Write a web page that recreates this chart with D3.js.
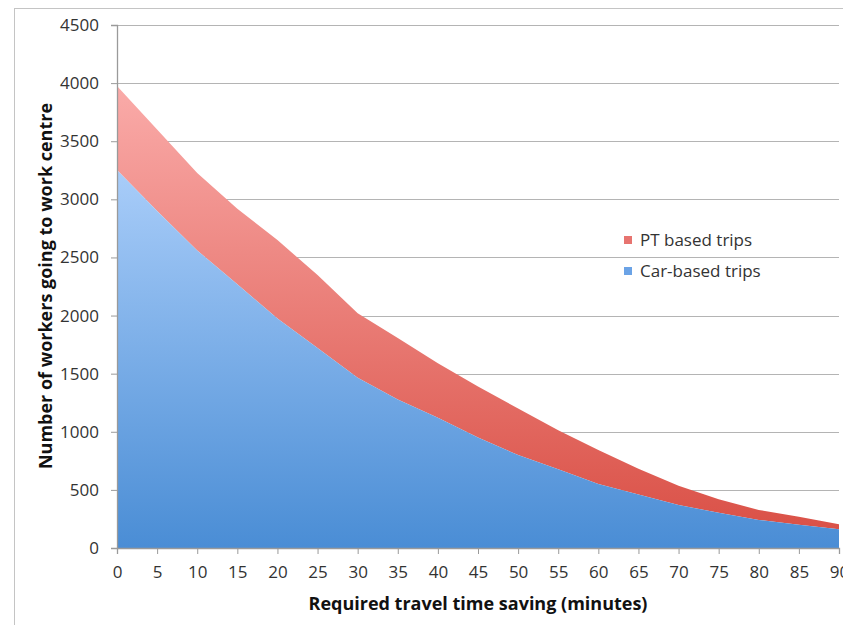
<!DOCTYPE html>
<html><head><meta charset="utf-8">
<script src="https://cdn.jsdelivr.net/npm/d3@7"></script>
<style>body{margin:0;background:#fff}svg{display:block}</style>
</head><body>
<script>
const minutes = [0,5,10,15,20,25,30,35,40,45,50,55,60,65,70,75,80,85,90];
const carTrips = [3253,2900,2560,2270,1975,1721,1465,1277,1120,950,800,678,551,460,370,303,241,201,161];
const ptTrips  = [722,700,667,650,675,627,555,530,469,440,400,335,293,221,165,116,86,68,44];
const yTicks = [0,500,1000,1500,2000,2500,3000,3500,4000,4500];
const seriesNames = ["Car-based trips","PT based trips"];
const xTitle = "Required travel time saving (minutes)";
const yTitle = "Number of workers going to work centre";

const W=843,H=625;
const m={left:117,right:4,top:25,bottom:77};
const svg=d3.select("body").append("svg").attr("width",W).attr("height",H);

// outer frame
svg.append("rect").attr("x",14.5).attr("y",8.5).attr("width",W).attr("height",H)
  .attr("fill","none").attr("stroke","#c4c4c4");

const x=d3.scaleLinear().domain([0,90]).range([m.left,W-m.right]);
const y=d3.scaleLinear().domain([0,4500]).range([H-m.bottom,m.top]);

const defs=svg.append("defs");
function grad(id,c1,c2){
  const g=defs.append("linearGradient").attr("id",id).attr("x1",0).attr("y1",0).attr("x2",0).attr("y2",1);
  g.append("stop").attr("offset","0%").attr("stop-color",c1);
  g.append("stop").attr("offset","100%").attr("stop-color",c2);
}
grad("gBlue","#a9cdf9","#4a8dd5");
grad("gRed","#faaba9","#da5147");

// gridlines
svg.append("g").selectAll("line").data(yTicks.filter(d=>d>0)).join("line")
  .attr("x1",m.left).attr("x2",W-m.right)
  .attr("y1",d=>Math.round(y(d))+0.5).attr("y2",d=>Math.round(y(d))+0.5)
  .attr("stroke","#b4b4b4").attr("stroke-width",1.2);

const data=minutes.map((t,i)=>({t,car:carTrips[i],pt:ptTrips[i]}));
const stack=d3.stack().keys(["car","pt"])(data);
const area=d3.area().x(d=>x(d.data.t)).y0(d=>y(d[0])).y1(d=>y(d[1]));
svg.append("path").datum(stack[1]).attr("d",area).attr("fill","url(#gRed)");
svg.append("path").datum(stack[0]).attr("d",area).attr("fill","url(#gBlue)");

// axes
const font="'Open Sans', Lato, sans-serif";
const yAxis=svg.append("g").attr("transform",`translate(${m.left},0)`)
  .call(d3.axisLeft(y).tickValues(yTicks).tickSize(6).tickPadding(12).tickFormat(d3.format("d")));
const xAxis=svg.append("g").attr("transform",`translate(0,${H-m.bottom})`)
  .call(d3.axisBottom(x).tickValues(minutes).tickSize(6).tickPadding(12).tickFormat(d3.format("d")));
[yAxis,xAxis].forEach(a=>{
  a.select(".domain").attr("stroke","#9a9a9a").attr("stroke-width",1.3);
  a.selectAll(".tick line").attr("stroke","#9a9a9a");
  a.selectAll("text").attr("fill","#333").style("font-family",font).style("font-size","17px");
});

// titles
svg.append("text").attr("x",478).attr("y",610).attr("text-anchor","middle")
  .style("font-family",font).style("font-weight","bold").style("font-size","18px").attr("fill","#111")
  .text(xTitle);
svg.append("text").attr("transform","translate(52,286) rotate(-90)").attr("text-anchor","middle")
  .style("font-family",font).style("font-weight","bold").style("font-size","18px").attr("fill","#111")
  .text(yTitle);

// legend
const legend=[{name:seriesNames[1],c:"#e77470",y:240},{name:seriesNames[0],c:"#6ba3e6",y:271}];
const lg=svg.append("g");
lg.selectAll("rect").data(legend).join("rect")
  .attr("x",624).attr("y",d=>d.y-4).attr("width",8).attr("height",8).attr("fill",d=>d.c);
lg.selectAll("text").data(legend).join("text")
  .attr("x",640).attr("y",d=>d.y+6).style("font-family",font).style("font-size","17px").attr("fill","#333")
  .text(d=>d.name);
</script>
</body></html>
